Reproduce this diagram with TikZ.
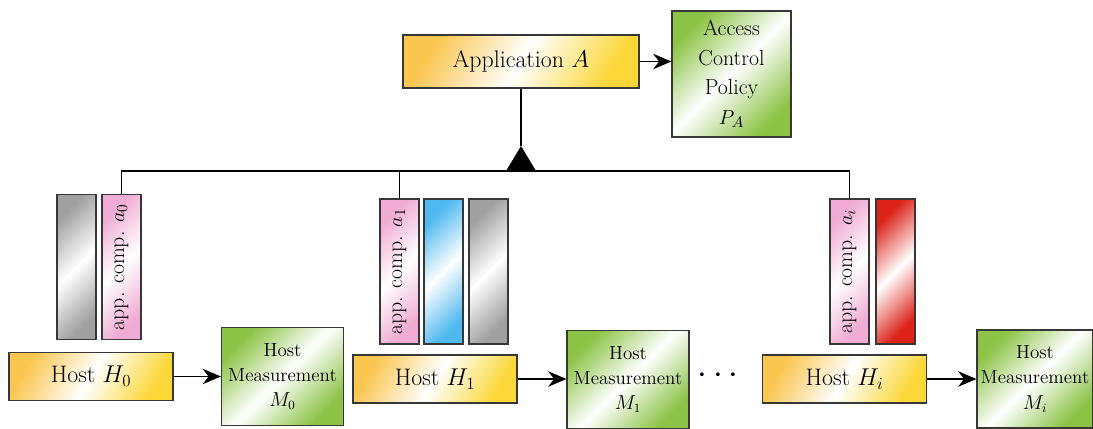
\documentclass[tikz,border=0pt]{standalone}
\usepackage{tikz}
\usetikzlibrary{arrows.meta,positioning,calc}
\usepackage{xcolor}
\definecolor{hostyellow}{RGB}{250,198,80}
\definecolor{policygreen}{RGB}{140,195,70}
\definecolor{comppink}{RGB}{240,172,212}
\definecolor{compgray}{RGB}{160,160,160}
\definecolor{compblue}{RGB}{80,185,240}
\definecolor{compred}{RGB}{220,35,25}
\definecolor{edgegray}{RGB}{55,55,55}

\begin{document}
\begin{tikzpicture}[x=0.025cm, y=-0.025cm,
    box/.style={draw=edgegray, line width=0.8pt, inner sep=1pt, align=center,
        font=\fontsize{15.5}{17}\selectfont},
    yellowbox/.style={box, left color=hostyellow, right color=hostyellow!70!yellow,
        middle color=white, shading angle=60, font=\fontsize{17}{19}\selectfont},
    greenbox/.style={box, left color=policygreen, right color=policygreen,
        middle color=white, shading angle=45},
    hostbox/.style={yellowbox, minimum width=4.1cm, minimum height=1.2cm},
    measbox/.style={greenbox, minimum width=3.05cm, minimum height=2.45cm,
        font=\fontsize{13.5}{18}\selectfont},
    bar/.style={box, rotate=90, minimum width=3.625cm, minimum height=0.975cm},
    pinkbar/.style={bar, left color=comppink, right color=comppink,
        middle color=white, shading angle=45},
    graybar/.style={bar, left color=compgray, right color=compgray,
        middle color=white, shading angle=45},
    bluebar/.style={bar, left color=compblue, right color=compblue,
        middle color=white, shading angle=45},
    redbar/.style={bar, left color=compred, right color=compred,
        middle color=white, shading angle=45},
    link/.style={line width=0.9pt},
    arr/.style={link, -{Stealth[length=13pt,width=11pt]}}]
    \useasboundingbox (0,0) rectangle (1093,428);

    % application and its policy
    \node[yellowbox, minimum width=5.9cm, minimum height=1.325cm] (app) at (521,61.5) {Application $A$};
    \node[greenbox, minimum width=2.975cm, minimum height=3.15cm,
        font=\fontsize{15.5}{21}\selectfont] (policy) at (731.5,74) {Access\\Control\\Policy\\$P_A$};
    \draw[arr] (app.east) -- (app.east -| policy.west);

    % host 0
    \node[graybar] (g0) at (76.5,267) {};
    \node[pinkbar] (a0) at (121.5,267) {app. comp. $a_0$};
    \node[hostbox] (h0) at (91,376.5) {Host $H_0$};
    \node[measbox] (m0) at (282.5,376.5) {Host\\Measurement\\$M_0$};
    \draw[arr] (h0.east) -- (h0.east -| m0.west);

    % host 1
    \node[pinkbar] (a1) at (399.5,271.5) {app. comp. $a_1$};
    \node[bluebar] (b1) at (443.5,271.5) {};
    \node[graybar] (g1) at (488.5,271.5) {};
    \node[hostbox] (h1) at (435,379) {Host $H_1$};
    \node[measbox] (m1) at (628,379.5) {Host\\Measurement\\$M_1$};
    \draw[arr] (h1.east) -- (h1.east -| m1.west);

    \node[font=\fontsize{24}{24}\selectfont] (dots) at (718,376) {$\cdots$};

    % host i
    \node[pinkbar] (ai) at (849.5,271.5) {app. comp. $a_i$};
    \node[redbar] (ri) at (895.5,271.5) {};
    \node[hostbox] (hi) at (844.5,379) {Host $H_i$};
    \node[measbox, minimum width=2.9cm] (mi) at (1035,379) {Host\\Measurement\\$M_i$};
    \draw[arr] (hi.east) -- (hi.east -| mi.west);

    % composition of A
    \coordinate (bus) at (app.south |- 0,171);
    \coordinate (apex) at (app.south |- 0,146);
    \draw[link] (app.south) -- (apex);
    \fill (apex) -- ($(bus)+(-15,0)$) -- ($(bus)+(15,0)$) -- cycle;
    \draw[link] (a0.east) |- (bus) -| (ai.east);
    \draw[link] (a1.east) -- (a1.east |- bus);
\end{tikzpicture}
\end{document}
